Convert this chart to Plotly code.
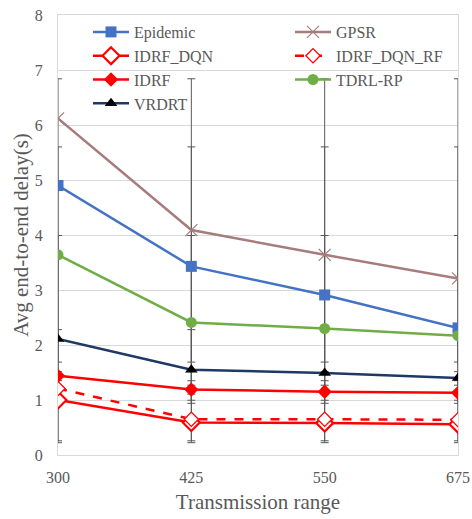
import numpy as np
import plotly.graph_objects as go

# Transmission range (m) on the category axis
ranges = [300, 425, 550, 675]

# Average end-to-end delay (s) per routing scheme
epidemic = [4.90, 3.43, 2.91, 2.31]
gpsr = [6.12, 4.09, 3.64, 3.21]
idrf_dqn = [1.00, 0.59, 0.58, 0.56]
idrf_dqn_rf = [1.21, 0.65, 0.65, 0.64]
idrf = [1.44, 1.19, 1.15, 1.13]
tdrl_rp = [3.64, 2.41, 2.30, 2.17]
vrdrt = [2.11, 1.55, 1.49, 1.40]

names = ["Epidemic", "GPSR", "IDRF_DQN", "IDRF_DQN_RF", "IDRF", "TDRL-RP", "VRDRT"]
series = [epidemic, gpsr, idrf_dqn, idrf_dqn_rf, idrf, tdrl_rp, vrdrt]

styles = {
    "Epidemic": dict(line=dict(color="#4472C4", width=2.5),
                     marker=dict(symbol="square", size=11, color="#4472C4")),
    "GPSR": dict(line=dict(color="#A67C7C", width=2.5),
                 marker=dict(symbol="x-thin", size=12, color="#A67C7C",
                             line=dict(color="#A67C7C", width=1.2))),
    "IDRF_DQN": dict(line=dict(color="#FF0000", width=2.5),
                     marker=dict(symbol="diamond", size=13, color="white",
                                 line=dict(color="#FF0000", width=2.2))),
    "IDRF_DQN_RF": dict(line=dict(color="#FF0000", width=2.5, dash="dash"),
                        marker=dict(symbol="diamond", size=11, color="white",
                                    line=dict(color="#FF0000", width=1.3))),
    "IDRF": dict(line=dict(color="#FF0000", width=2.5),
                 marker=dict(symbol="diamond", size=11, color="#FF0000")),
    "TDRL-RP": dict(line=dict(color="#70AD47", width=2.5),
                    marker=dict(symbol="circle", size=11, color="#70AD47")),
    "VRDRT": dict(line=dict(color="#1F3864", width=2.5),
                  marker=dict(symbol="triangle-up", size=11, color="black")),
}

# Legend split into two columns
legend_column = {"Epidemic": "legend", "IDRF_DQN": "legend", "IDRF": "legend",
                 "VRDRT": "legend", "GPSR": "legend2", "IDRF_DQN_RF": "legend2",
                 "TDRL-RP": "legend2"}

fig = go.Figure()

# Standard-deviation error bars (2 sd), centred on each series mean
for vals in series:
    arr = np.array(vals, dtype=float)
    mean = arr.mean()
    sd2 = 2 * arr.std(ddof=1)
    fig.add_trace(go.Scatter(
        x=ranges, y=[mean] * len(ranges), mode="markers",
        marker=dict(size=1, color="rgba(0,0,0,0)"),
        error_y=dict(type="data", array=[sd2] * len(ranges), visible=True,
                     color="#595959", thickness=1, width=4),
        showlegend=False, hoverinfo="skip",
    ))

for name, vals in zip(names, series):
    fig.add_trace(go.Scatter(x=ranges, y=vals, mode="lines+markers", name=name,
                             legend=legend_column[name], **styles[name]))

font_family = "Times New Roman, Liberation Serif, serif"
legend_font = dict(family=font_family, size=16, color="#595959")
legend_common = dict(orientation="v", yanchor="top", xanchor="left",
                     bgcolor="rgba(0,0,0,0)", borderwidth=0,
                     font=legend_font, traceorder="normal", itemwidth=36,
                     tracegroupgap=0)

fig.update_layout(
    width=472, height=519,
    margin=dict(l=58, r=14, t=15, b=64, autoexpand=False),
    paper_bgcolor="white", plot_bgcolor="white",
    font=dict(family=font_family, color="#595959", size=16),
    showlegend=True,
    legend=dict(x=0.075, y=1.0, **legend_common),
    legend2=dict(x=0.58, y=1.0, **legend_common),
    xaxis=dict(range=[300, 675], tickvals=ranges, ticktext=[str(r) for r in ranges],
               showgrid=False, zeroline=False, showline=True, linecolor="#D9D9D9",
               linewidth=1, mirror=True, ticks="", ticklabelstandoff=8,
               tickfont=dict(family=font_family, size=16, color="#595959"),
               title=dict(text="Transmission range",
                          font=dict(family=font_family, size=21, color="#595959"),
                          standoff=9)),
    yaxis=dict(range=[0, 8], dtick=1, showgrid=True, gridcolor="#D9D9D9", gridwidth=1,
               zeroline=False, showline=True, linecolor="#D9D9D9", linewidth=1,
               mirror=True, ticks="", ticklabelstandoff=11,
               tickfont=dict(family=font_family, size=16, color="#595959"),
               title=dict(text="Avg end-to-end delay(s)",
                          font=dict(family=font_family, size=21, color="#595959"),
                          standoff=0)),
)

fig.write_html("out.html")
